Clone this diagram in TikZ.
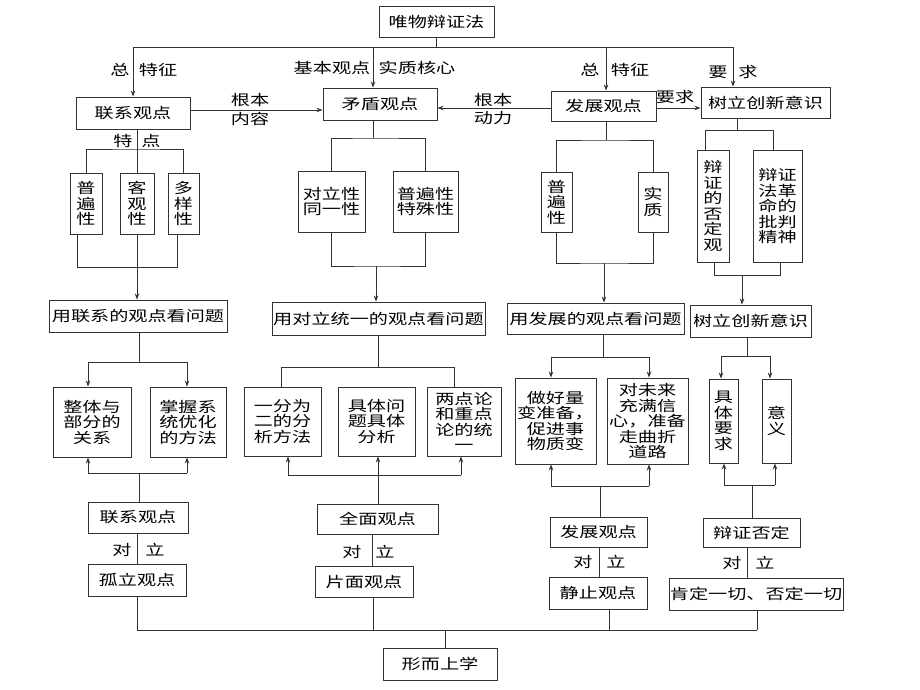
\documentclass[tikz,border=0pt]{standalone}
\usepackage{fontspec}
\newfontfamily\cjk[FakeStretch=1.32]{Noto Sans CJK SC}
\usetikzlibrary{arrows.meta}
\newcommand{\mybox}[6]{\node[box,minimum width={(#4-#2)*1pt},minimum height={(#5-#3)*1pt}] (#1) at ({(#2+#4)/2},{(#3+#5)/2}) {#6};}
\begin{document}
\begin{tikzpicture}[x=1pt,y=-1pt,
  ln/.style={line width=0.9pt,draw=black!80},
  arr/.style={ln,-{Stealth[length=6pt,width=4.5pt]}},
  box/.style={ln,rectangle,inner sep=0pt,align=center,font=\cjk\fontsize{14.5}{15.5}\selectfont},
  lbl/.style={font=\cjk\fontsize{14.5}{15.5}\selectfont,inner sep=0pt}]
\fill[white] (0,0) rectangle (920,690);
\useasboundingbox (0,0) rectangle (920,690);

% ---------- nodes ----------
\mybox{top}{379}{6}{494}{37}{唯物辩证法}
\mybox{lx}{76}{97}{190}{129}{联系观点}
\mybox{md}{323}{88}{437}{120}{矛盾观点}
\mybox{fz}{551}{91}{656}{121}{发展观点}
\mybox{sl}{701}{87}{830}{118}{树立创新意识}

\mybox{p1}{70}{173}{102}{234}{普\\遍\\性}
\mybox{k1}{120}{173}{154}{234}{客\\观\\性}
\mybox{d1}{168}{173}{199}{234}{多\\样\\性}
\mybox{yl1}{49}{300}{227}{332}{用联系的观点看问题}

\mybox{dl}{298}{171}{365}{232}{对立性\\同一性}
\mybox{pb}{393}{171}{458}{232}{普遍性\\特殊性}
\mybox{yd}{272}{302}{485}{335}{用对立统一的观点看问题}

\mybox{pb3}{541}{172}{572}{232}{普\\遍\\性}
\mybox{sz}{638}{172}{668}{232}{实\\质}
\mybox{yf}{507}{303}{684}{334}{用发展的观点看问题}

\mybox{bz}{697}{150}{729}{262}{辩\\证\\的\\否\\定\\观}
\mybox{bj}{753}{150}{802}{262}{辩证\\法革\\命的\\批判\\精神}
\mybox{sl2}{690}{305}{811}{337}{树立创新意识}

\mybox{zt}{53}{387}{131}{457}{整体与\\部分的\\关系}
\mybox{zw}{150}{387}{226}{457}{掌握系\\统优化\\的方法}
\mybox{lx2}{88}{502}{188}{533}{联系观点}
\mybox{gl}{88}{564}{186}{596}{孤立观点}

\mybox{yf2}{244}{387}{321}{456}{一分为\\二的分\\析方法}
\mybox{jt}{338}{387}{415}{456}{具体问\\题具体\\分析}
\mybox{ld}{427}{387}{501}{456}{两点论\\和重点\\论的统\\一}
\mybox{qm}{317}{504}{438}{534}{全面观点}
\mybox{pm}{315}{566}{413}{597}{片面观点}

\mybox{zh}{515}{378}{596}{464}{做好量\\变准备，\\促进事\\物质变}
\mybox{dw}{607}{378}{688}{464}{对未来\\充满信\\心，准备\\走曲折\\道路}
\mybox{fz2}{550}{517}{647}{547}{发展观点}
\mybox{jz}{549}{577}{647}{609}{静止观点}

\mybox{jy}{709}{379}{738}{463}{具\\体\\要\\求}
\mybox{yy}{762}{379}{791}{463}{意\\义}
\mybox{bf}{703}{518}{800}{547}{辩证否定}
\mybox{kd}{669}{578}{843}{610}{肯定一切、否定一切}

\mybox{xs}{383}{648}{497}{680}{形而上学}

% ---------- labels ----------
\node[lbl] (t1) at (120,70) {总};
\node[lbl] (t2) at (158,70) {特征};
\node[lbl] (t3) at (332,68) {基本观点};
\node[lbl] (t4) at (417,68) {实质核心};
\node[lbl] (t5) at (590,70) {总};
\node[lbl] (t6) at (630,70) {特征};
\node[lbl] (t7) at (718,72) {要};
\node[lbl] (t8) at (748,72) {求};
\node[lbl] (t9) at (250,100) {根本};
\node[lbl] (t10) at (250,119) {内容};
\node[lbl] (t11) at (493,100) {根本};
\node[lbl] (t12) at (493,118) {动力};
\node[lbl] (t13) at (675,97) {要求};
\node[lbl] (t14) at (123,141) {特};
\node[lbl] (t15) at (151,141) {点};
\node[lbl] (d1a) at (122,550) {对};
\node[lbl] (d1b) at (155,550) {立};
\node[lbl] (d2a) at (352,552) {对};
\node[lbl] (d2b) at (385,552) {立};
\node[lbl] (d3a) at (583,562) {对};
\node[lbl] (d3b) at (616,562) {立};
\node[lbl] (d4a) at (732,563) {对};
\node[lbl] (d4b) at (765,563) {立};

% ---------- top connectors ----------
\coordinate (bA) at (133,47);
\coordinate (bB) at (373,47);
\coordinate (bC) at (606,47);
\coordinate (bD) at (733,47);
\draw[ln] (bA) -- (bD);
\draw[ln] (top.south) -- (top.south |- bA);
\draw[arr] (bA) -- (bA |- lx.north);
\draw[arr] (bB) -- (bB |- md.north);
\draw[arr] (bC) -- (bC |- fz.north);
\draw[arr] (bD) -- (bD |- sl.north);
\coordinate (hA) at (0,110);
\coordinate (hB) at (0,108);
\draw[arr] (lx.east |- hA) -- (md.west |- hA);
\draw[arr] (fz.west |- hB) -- (md.east |- hB);
\draw[arr] (fz.east |- hB) -- (sl.west |- hB);

% column 1
\coordinate (s1) at (137,149);
\draw[ln] (lx.south -| s1) -- (k1.north -| s1);
\draw[ln] (p1.north) |- (s1) -| (d1.north);
\coordinate (u1a) at (77,267);
\coordinate (u1b) at (177,267);
\draw[ln] (u1a |- p1.south) -- (u1a) -- (u1b) -- (u1b |- d1.south);
\draw[arr] (k1.south) -- (k1.south |- yl1.north);

% column 2
\coordinate (s2) at (373,138);
\draw[ln] (md.south -| s2) -- (s2);
\draw[ln] (dl.north) |- (s2) -| (pb.north);
\coordinate (u2) at (376,266);
\draw[ln] (dl.south) |- (u2) -| (pb.south);
\draw[arr] (u2) -- (u2 |- yd.north);

% column 3
\coordinate (s3) at (606,140);
\draw[ln] (fz.south -| s3) -- (s3);
\draw[ln] (pb3.north) |- (s3) -| (sz.north);
\coordinate (u3) at (604,263);
\draw[ln] (pb3.south) |- (u3) -| (sz.south);
\draw[arr] (u3) -- (u3 |- yf.north);

% column 4
\coordinate (s4) at (737,130);
\coordinate (s4a) at (705,130);
\coordinate (s4b) at (773,130);
\draw[ln] (sl.south -| s4) -- (s4);
\draw[ln] (s4a |- bz.north) -- (s4a) -- (s4b) -- (s4b |- bj.north);
\coordinate (u4) at (742,275);
\coordinate (u4a) at (714,275);
\coordinate (u4b) at (780,275);
\draw[ln] (u4a |- bz.south) -- (u4a) -- (u4b) -- (u4b |- bj.south);
\draw[arr] (u4) -- (u4 |- sl2.north);

% ---------- second level ----------
% column 1
\coordinate (v1) at (139,362);
\coordinate (v1a) at (88,362);
\coordinate (v1b) at (187,362);
\draw[ln] (yl1.south -| v1) -- (v1);
\draw[ln] (v1a) -- (v1b);
\draw[arr] (v1a) -- (v1a |- zt.north);
\draw[arr] (v1b) -- (v1b |- zw.north);
\coordinate (w1) at (139,473);
\coordinate (w1a) at (88,473);
\coordinate (w1b) at (187,473);
\draw[ln] (w1a) -- (w1b);
\draw[arr] (w1a) -- (w1a |- zt.south);
\draw[arr] (w1b) -- (w1b |- zw.south);
\draw[ln] (w1) -- (w1 |- lx2.north);
\coordinate (o1) at (137,0);
\draw[ln] (o1 |- lx2.south) -- (o1 |- gl.north);

% column 2
\coordinate (v2) at (378,367);
\coordinate (v2a) at (281,367);
\coordinate (v2b) at (454,367);
\draw[ln] (yd.south -| v2) -- (v2);
\draw[ln] (v2a |- yf2.north) -- (v2a) -- (v2b) -- (v2b |- ld.north);
\coordinate (w2) at (378,475);
\coordinate (w2a) at (288,475);
\coordinate (w2b) at (461,475);
\draw[ln] (w2a) -- (w2b);
\draw[arr] (w2a) -- (w2a |- yf2.south);
\draw[arr] (w2) -- (w2 |- jt.south);
\draw[arr] (w2b) -- (w2b |- ld.south);
\draw[ln] (w2) -- (w2 |- qm.north);
\coordinate (o2) at (372,0);
\draw[ln] (o2 |- qm.south) -- (o2 |- pm.north);

% column 3
\coordinate (v3) at (603,357);
\coordinate (v3a) at (551,357);
\coordinate (v3b) at (649,357);
\draw[ln] (yf.south -| v3) -- (v3);
\draw[ln] (v3a) -- (v3b);
\draw[arr] (v3a) -- (v3a |- zh.north);
\draw[arr] (v3b) -- (v3b |- dw.north);
\coordinate (w3) at (600,486);
\coordinate (w3a) at (551,486);
\coordinate (w3b) at (649,486);
\draw[ln] (w3a) -- (w3b);
\draw[arr] (w3a) -- (w3a |- zh.south);
\draw[arr] (w3b) -- (w3b |- dw.south);
\draw[ln] (w3) -- (w3 |- fz2.north);
\coordinate (o3) at (599,0);
\draw[ln] (o3 |- fz2.south) -- (o3 |- jz.north);

% column 4
\coordinate (v4) at (747,356);
\coordinate (v4a) at (721,356);
\coordinate (v4b) at (770,356);
\draw[ln] (sl2.south -| v4) -- (v4);
\draw[ln] (v4a) -- (v4b);
\draw[arr] (v4a) -- (v4a |- jy.north);
\draw[arr] (v4b) -- (v4b |- yy.north);
\coordinate (w4) at (752,485);
\coordinate (w4a) at (724,485);
\coordinate (w4b) at (775,485);
\draw[ln] (w4a) -- (w4b);
\draw[arr] (w4a) -- (w4a |- jy.south);
\draw[arr] (w4b) -- (w4b |- yy.south);
\draw[ln] (w4) -- (w4 |- bf.north);
\coordinate (o4) at (747,0);
\draw[ln] (o4 |- bf.south) -- (o4 |- kd.north);

% ---------- bottom ----------
\coordinate (zA) at (137,630);
\coordinate (zB) at (373,630);
\coordinate (zC) at (609,630);
\coordinate (zD) at (757,630);
\coordinate (zM) at (445,630);
\draw[ln] (zA) -- (zD);
\draw[ln] (zA |- gl.south) -- (zA);
\draw[ln] (zB |- pm.south) -- (zB);
\draw[ln] (zC |- jz.south) -- (zC);
\draw[ln] (zD |- kd.south) -- (zD);
\draw[ln] (zM) -- (zM |- xs.north);
\end{tikzpicture}
\end{document}
